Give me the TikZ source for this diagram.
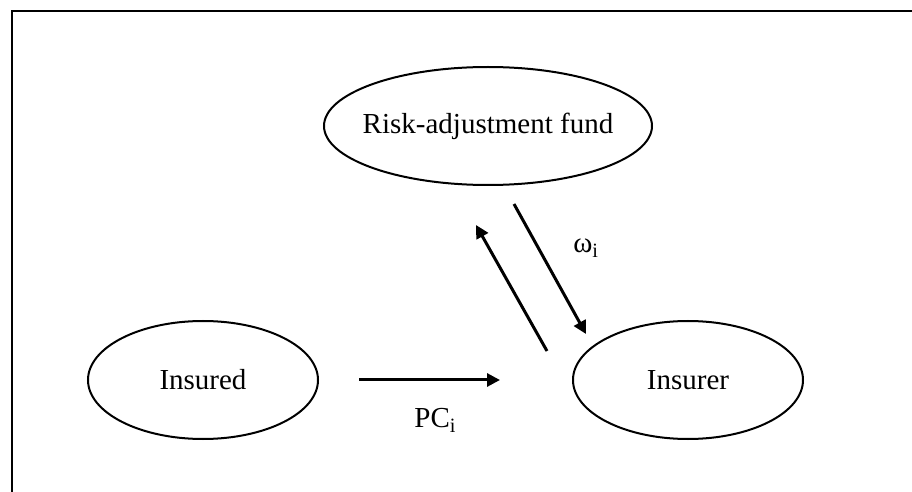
\documentclass[tikz,border=0pt]{standalone}
\usepackage{fontspec}
\setmainfont{Liberation Serif}
\usepackage{tikz}
\usetikzlibrary{shapes,arrows.meta,positioning,calc}

\begin{document}
\begin{tikzpicture}[
  x=0.5pt, y=-0.5pt,
  party/.style={draw, ellipse, line width=1pt, inner sep=0pt, minimum width=115pt, minimum height=59pt, font=\fontsize{14.5}{17}\selectfont},
  flow/.style={-{Triangle[length=6.5pt,width=6.5pt]}, line width=1.5pt},
  tag/.style={font=\fontsize{14.5}{17}\selectfont, inner sep=0pt, anchor=base west}
]
  \useasboundingbox (0,0) rectangle (912,492);
  \clip (0,0) rectangle (912,492);
  \draw[line width=1.25pt] (12,11) rectangle (940,520);

  \node[party, minimum width=164pt, inner xsep=-6pt] (fund) at (488,126) {Risk-adjustment fund};
  \node[party] (insured) at (203,380) {Insured};
  \node[party] (insurer) at (688,380) {Insurer};

  % ends of the two payment flows between fund and insurer
  \coordinate (backS) at (547,351);
  \coordinate (backE) at (476,225);
  \coordinate (payS) at (514,204);
  \coordinate (payE) at (586,334);

  \draw[flow, shorten <=20pt, shorten >=36pt] (insured.east) -- (insurer.west);
  \draw[flow] (backS) -- (backE);
  \draw[flow] (payS) -- (payE);

  \node[tag] (pc) at (414,428) {PC\textsubscript{i}};
  \node[tag] (omega) at (573,253) {ω\textsubscript{i}};
\end{tikzpicture}
\end{document}
